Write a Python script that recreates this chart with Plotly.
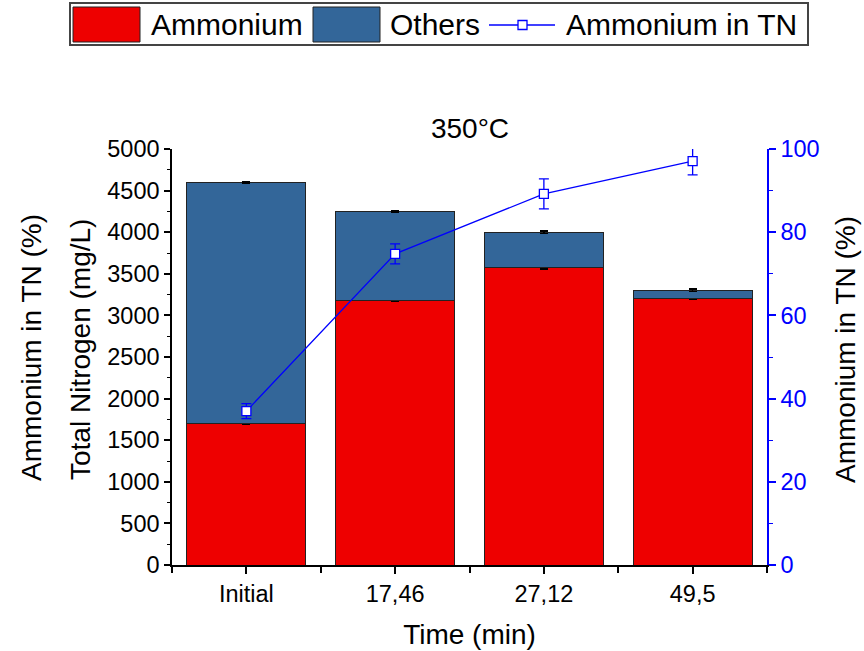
import plotly.graph_objects as go

# Sampling times and measured nitrogen species (mg/L)
categories = ["Initial", "17,46", "27,12", "49,5"]
ammonium = [1700, 3180, 3570, 3200]
ammonium_err = [12, 8, 10, 10]
others = [2900, 1070, 430, 100]
others_err = [8, 6, 15, 15]

# Share of ammonium in total nitrogen (%)
ammonium_pct = [37.0, 74.8, 89.2, 97.1]
ammonium_pct_err = [1.8, 2.4, 3.6, 3.3]

y_ticks = list(range(0, 5001, 500))
y2_ticks = list(range(0, 101, 20))

FONT = "Liberation Sans, Arial, sans-serif"
RED = "#EE0000"
STEEL = "#336699"
BLUE = "#0000FF"

W, H = 864, 651
L, R, T, B = 172, 767, 149, 565   # plot area in pixels


def px_x(px):
    return (px - L) / (R - L)


def px_y(py):
    return (B - py) / (B - T)


xpos = list(range(len(categories)))

fig = go.Figure()

fig.add_trace(go.Bar(
    x=xpos, y=ammonium, name="Ammonium", width=0.8,
    marker=dict(color=RED, line=dict(color="#222222", width=1)),
    error_y=dict(type="data", array=ammonium_err, color="black",
                 thickness=1.5, width=4),
    showlegend=False,
))
fig.add_trace(go.Bar(
    x=xpos, y=others, name="Others", width=0.8,
    marker=dict(color=STEEL, line=dict(color="#222222", width=1)),
    error_y=dict(type="data", array=others_err, color="black",
                 thickness=1.5, width=4),
    showlegend=False,
))
fig.add_trace(go.Scatter(
    x=xpos, y=ammonium_pct, name="Ammonium in TN", yaxis="y2",
    mode="lines+markers",
    line=dict(color=BLUE, width=1.3),
    marker=dict(symbol="square", size=9, color="white",
                line=dict(color=BLUE, width=1.3)),
    error_y=dict(type="data", array=ammonium_pct_err, color=BLUE,
                 thickness=1.3, width=5),
    showlegend=False,
))

axis_font = dict(family=FONT, size=23.5, color="black")

fig.update_layout(
    width=W, height=H,
    margin=dict(l=L, r=W - R, t=T, b=H - B, pad=0, autoexpand=False),
    paper_bgcolor="white", plot_bgcolor="white",
    barmode="stack",
    font=dict(family=FONT, color="black"),
    title=dict(text="350°C", x=px_x(470), xref="paper", xanchor="center",
               y=1 - 128 / H, yanchor="middle",
               font=dict(family=FONT, size=28, color="black")),
    xaxis=dict(
        automargin=False,
        range=[-0.5, len(categories) - 0.5],
        tickmode="array", tickvals=xpos, ticktext=categories,
        ticks="outside", ticklen=7, tickwidth=1.5, tickcolor="black",
        minor=dict(tickmode="array",
                   tickvals=[i - 0.5 for i in range(len(categories) + 1)],
                   ticks="outside", ticklen=6, tickwidth=1.5,
                   tickcolor="black"),
        showline=True, linecolor="black", linewidth=1.5,
        showgrid=False, zeroline=False, tickfont=axis_font,
        title=dict(text="Time (min)", standoff=18,
                   font=dict(family=FONT, size=28, color="black")),
    ),
    xaxis2=dict(
        automargin=False,
        overlaying="x", side="top", anchor="y",
        range=[-0.5, len(categories) - 0.5],
        tickmode="array", tickvals=xpos, showticklabels=False,
        ticks="inside", ticklen=7, tickwidth=1.5, tickcolor="black",
        minor=dict(tickmode="array",
                   tickvals=[i - 0.5 for i in range(len(categories) + 1)],
                   ticks="inside", ticklen=6, tickwidth=1.5,
                   tickcolor="black"),
        showline=True, linecolor="black", linewidth=1.5,
        showgrid=False, zeroline=False,
    ),
    yaxis=dict(
        automargin=False,
        range=[0, 5000], tickmode="array", tickvals=y_ticks,
        ticks="outside", ticklen=6, tickwidth=1.5, tickcolor="black",
        minor=dict(dtick=250, ticks="outside", ticklen=3, tickwidth=1.2,
                   tickcolor="black"),
        showline=True, linecolor="black", linewidth=1.5,
        showgrid=False, zeroline=False, tickfont=axis_font,
    ),
    yaxis2=dict(
        automargin=False,
        overlaying="y", side="right", anchor="x",
        range=[0, 100], tickmode="array", tickvals=y2_ticks,
        ticks="outside", ticklen=7, tickwidth=1.5, tickcolor=BLUE,
        minor=dict(dtick=10, ticks="outside", ticklen=4, tickwidth=1.2,
                   tickcolor=BLUE),
        showline=True, linecolor=BLUE, linewidth=1.5,
        showgrid=False, zeroline=False,
        tickfont=dict(family=FONT, size=23.5, color=BLUE),
    ),
)

# Axis titles for the two value scales
title_font = dict(family=FONT, size=28, color="black")
for text, xp, yp in [("Ammonium in TN (%)", 31, 348),
                     ("Total Nitrogen (mg/L)", 80, 350),
                     ("Ammonium in TN (%)", 845, 350)]:
    fig.add_annotation(text=text, xref="paper", yref="paper",
                       x=px_x(xp), y=px_y(yp), textangle=-90,
                       xanchor="center", yanchor="middle", showarrow=False,
                       font=title_font)

# Legend panel above the plot
fig.add_shape(type="rect", xref="paper", yref="paper",
              x0=px_x(70), x1=px_x(808), y0=px_y(45), y1=px_y(3),
              line=dict(color="#444444", width=2), fillcolor="white")
for color, x0, x1 in [(RED, 73, 140), (STEEL, 313, 380)]:
    fig.add_shape(type="rect", xref="paper", yref="paper",
                  x0=px_x(x0), x1=px_x(x1), y0=px_y(42), y1=px_y(7),
                  line=dict(color="#222222", width=1), fillcolor=color)
fig.add_shape(type="line", xref="paper", yref="paper",
              x0=px_x(489), x1=px_x(555), y0=px_y(25), y1=px_y(25),
              line=dict(color=BLUE, width=1.3))
fig.add_shape(type="rect", xref="paper", yref="paper",
              x0=px_x(518), x1=px_x(527), y0=px_y(29.5), y1=px_y(20.5),
              line=dict(color=BLUE, width=1.3), fillcolor="white")
legend_font = dict(family=FONT, size=30, color="black")
for text, xl in [("Ammonium", 149), ("Others", 388), ("Ammonium in TN", 564)]:
    fig.add_annotation(text=text, xref="paper", yref="paper",
                       x=px_x(xl), y=px_y(25), xanchor="left",
                       yanchor="middle", showarrow=False, font=legend_font)

fig.write_html("out.html")
